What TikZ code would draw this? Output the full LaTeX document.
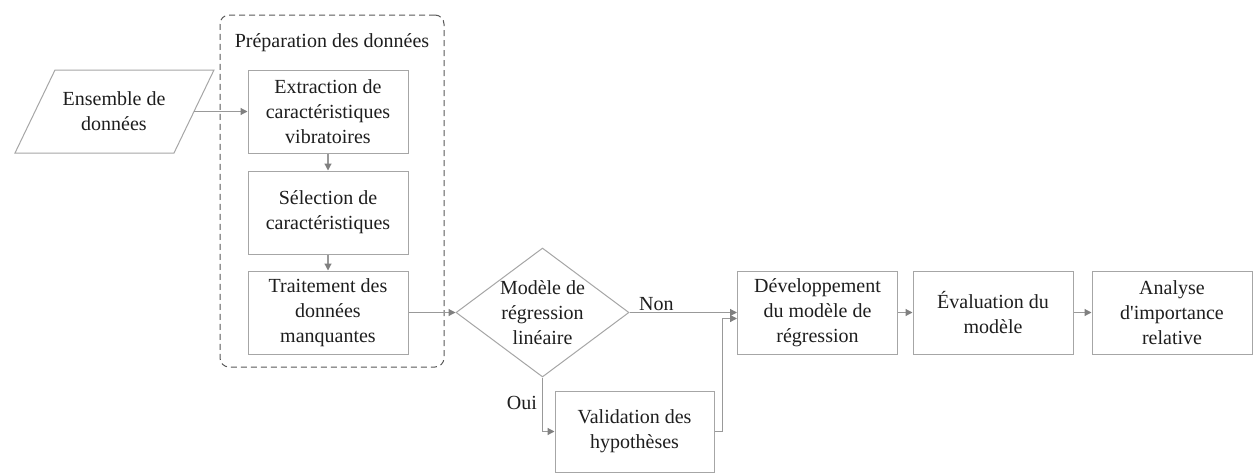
\documentclass[tikz,border=0pt]{standalone}
\usepackage{fontspec}
\setmainfont{LiberationSerif}[Extension=.ttf, UprightFont=*-Regular, BoldFont=*-Bold]
\usetikzlibrary{shapes.geometric,arrows.meta}
\definecolor{boxgray}{HTML}{A6A6A6}
\definecolor{linegray}{HTML}{999999}
\definecolor{tipgray}{HTML}{808080}
\definecolor{dashgray}{HTML}{595959}
\definecolor{ink}{HTML}{1E1E1E}
\begin{document}
\begin{tikzpicture}[x=1pt,y=-1pt,
  lbl/.style={text=ink, font=\fontsize{20}{25}\selectfont, align=center, inner sep=0pt},
  stepbox/.style={lbl, draw=boxgray, line width=1pt, fill=white,
    minimum width=160pt, minimum height=83pt},
  arr/.style={draw=linegray, line width=1.2pt,
    -{Triangle[length=7pt,width=7pt,fill=tipgray,color=tipgray]}},
  tag/.style={text=ink, font=\fontsize{20}{25}\selectfont, inner sep=1pt}]
\useasboundingbox (0,0) rectangle (1254,474);
\fill[white] (0,0) rectangle (1254,474);

% data preparation group
\node[draw=dashgray, line width=1pt, dash pattern=on 6pt off 4pt,
  rounded corners=9pt, minimum width=224pt, minimum height=352pt,
  inner sep=0pt] (grp) at (332,191) {};
\node[lbl, anchor=base] (grptitle) at (332,47) {Préparation des données};

% input data (parallelogram)
\draw[boxgray, line width=1pt, fill=white]
  (55,70) -- (214,70) -- (174,153) -- (15,153) -- cycle;
\node[lbl] (data) at (114,111.5) {Ensemble de\\données};
\coordinate (dataout) at (194,111.5);

% preparation steps
\node[stepbox] (ext) at (328,111.5) {Extraction de\\caractéristiques\\vibratoires};
\node[stepbox] (sel) at (328,212.5) {Sélection de\\caractéristiques};
\node[stepbox] (trt) at (328,312.5) {Traitement des\\données\\manquantes};

% decision
\node[diamond, draw=boxgray, line width=1pt, fill=white,
  minimum width=173pt, minimum height=129pt, inner sep=0pt] (dec) at (542.5,312.5) {};
\node[lbl] (dectext) at (542.5,313) {Modèle de\\régression\\linéaire};

% hypothesis check
\node[stepbox, minimum width=159pt, minimum height=81pt] (val) at (634.5,431.5)
  {Validation des\\hypothèses};

% model chain
\node[stepbox] (dev) at (817.5,312.5) {Développement\\du modèle de\\régression};
\node[stepbox] (eva) at (993,312.5) {Évaluation du\\modèle};
\node[stepbox] (ana) at (1172,312.5) {Analyse\\d\textquotesingle importance\\relative};

% connectors
\draw[arr] (dataout) -- (ext.west);
\draw[arr] (ext.south) -- (sel.north);
\draw[arr] (sel.south) -- (trt.north);
\draw[arr] (trt.east) -- (dec.west);
\draw[arr] (dec.east) -- node[tag, above, pos=0.25] {Non} (dev.west);
\draw[arr] (dec.south) |- node[tag, left, pos=0.24, inner sep=5pt] {Oui} (val.west);
\draw[arr] (val.east) -- ++(8,0) |- ([yshift=-6pt]dev.west);
\draw[arr] (dev.east) -- (eva.west);
\draw[arr] (eva.east) -- (ana.west);
\end{tikzpicture}
\end{document}
